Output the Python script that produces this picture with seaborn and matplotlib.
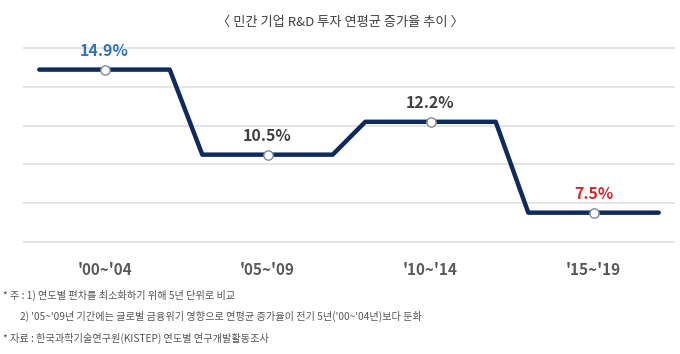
import matplotlib
matplotlib.use("Agg")
import matplotlib.pyplot as plt
import numpy as np
import pandas as pd
import seaborn as sns

periods = ["'00~'04", "'05~'09", "'10~'14", "'15~'19"]
growth = [14.9, 10.5, 12.2, 7.5]
label_colors = ["#2e75b6", "#404040", "#404040", "#d02a2a"]

title = "〈 민간 기업 R&D 투자 연평균 증가율 추이 〉"
notes = [
    "* 주 : 1) 연도별 편차를 최소화하기 위해 5년 단위로 비교",
    "2) '05~'09년 기간에는 글로벌 금융위기 영향으로 연평균 증가율이 전기 5년('00~'04년)보다 둔화",
    "* 자료 : 한국과학기술연구원(KISTEP) 연도별 연구개발활동조사",
]

sns.set_theme(style="white")
plt.rcParams['font.family'] = ['Noto Sans CJK KR', 'DejaVu Sans']

# step shaped line: each period is a flat segment, joined by slanted lines
half = 0.4
step = pd.DataFrame({
    "x": [i + d for i in range(len(growth)) for d in (-half, half)],
    "y": [v for v in growth for _ in (0, 1)],
})
pts = pd.DataFrame({"x": range(len(growth)), "y": growth})

fig = plt.figure(figsize=(6.8, 3.54), dpi=100)
ax = fig.add_axes([23 / 680, 1 - 243.6 / 354, 652 / 680, 197.2 / 354])

sns.lineplot(data=step, x="x", y="y", sort=False, color="#0f2a5c",
             linewidth=3.2, ax=ax, zorder=3)
sns.scatterplot(data=pts, x="x", y="y", s=45, color="white",
                edgecolor="#7f8a9a", linewidth=1.0, ax=ax, zorder=4)

for i, v in enumerate(growth):
    ax.annotate(f"{v}%", (i, v), xytext=(0, 13.5), textcoords="offset points",
                ha="center", va="center", fontsize=11.5, fontweight="bold",
                color=label_colors[i])

ax.set_xlim(-0.5, 3.5)
ax.set_ylim(5.9, 16.1)
ax.set_yticks(np.arange(6, 17, 2))
ax.set_yticklabels([])
ax.yaxis.grid(True, color="#e0e0e0", linewidth=1.2)
ax.xaxis.grid(False)
ax.set_xticks(range(len(periods)))
ax.set_xticklabels(periods, fontsize=11, fontweight="bold", color="#595959")
ax.tick_params(axis="x", length=0, pad=13)
ax.tick_params(axis="y", length=0)
ax.set_xlabel("")
ax.set_ylabel("")
sns.despine(ax=ax, left=True, bottom=True)

fig.text(0.5, 1 - 22 / 354, title, ha="center", va="center",
         fontsize=9.5, color="#404040")
fig.text(3 / 680, 1 - 295 / 354, notes[0], ha="left", va="center",
         fontsize=7.3, color="#555555")
fig.text(20 / 680, 1 - 316 / 354, notes[1], ha="left", va="center",
         fontsize=7.3, color="#555555")
fig.text(3 / 680, 1 - 338 / 354, notes[2], ha="left", va="center",
         fontsize=7.3, color="#555555")

fig.savefig("out.png", dpi=100, facecolor="white")
